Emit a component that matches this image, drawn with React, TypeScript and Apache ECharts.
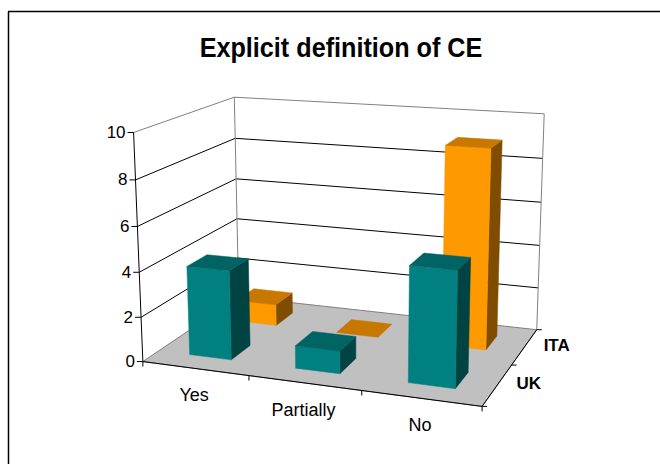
import React, { useEffect, useRef } from "react";
import * as echarts from "echarts";

const TITLE = "Explicit definition of CE";
const CATEGORIES = ["Yes", "Partially", "No"];
const SERIES_NAMES = ["UK", "ITA"];
const UK_VALUES = [4, 1, 5];
const ITA_VALUES = [1, 0, 9];
const VALUE_TICKS = [0, 2, 4, 6, 8, 10];
const VALUE_MAX = 10;
const VALUE_INTERVAL = 2;

const FONT = "'Liberation Sans', Arial, Helvetica, sans-serif";

type Faces = { front: string; top: string; side: string };
const FACE_COLORS: Record<string, Faces> = {
  UK: { front: "#008080", top: "#006464", side: "#004343" },
  ITA: { front: "#FF9900", top: "#C87800", side: "#7F4C00" },
};

// Hidden cartesian grid that supplies the category / value scales.
const GRID_W = 300;
const GRID_H = 300;
const BAR_WIDTH_RATIO = 0.4; // share of a category band
const BAR_DEPTH_RATIO = 0.4; // share of a series row

// Screen position of the corners of the plot box
// (unit cube: x across categories, y into depth, z up).
const BOX_CORNERS: number[][] = [
  [0, 0, 0, 143.5, 361],
  [1, 0, 0, 482, 407],
  [1, 1, 0, 537, 329],
  [0, 1, 0, 238, 297.5],
  [0, 0, 1, 133, 132.5],
  [0, 1, 1, 235, 97],
  [1, 1, 1, 544, 114],
];

// Least-squares fit of a 3x4 perspective camera to the box corners.
function fitProjection(pts: number[][]): number[] {
  const n = 11;
  const N = Array.from({ length: n }, () => new Array(n).fill(0));
  const r = new Array(n).fill(0);
  const addRow = (row: number[], b: number) => {
    for (let i = 0; i < n; i++) {
      r[i] += row[i] * b;
      for (let j = 0; j < n; j++) N[i][j] += row[i] * row[j];
    }
  };
  for (const [X, Y, Z, u, v] of pts) {
    addRow([X, Y, Z, 1, 0, 0, 0, 0, -u * X, -u * Y, -u * Z], u);
    addRow([0, 0, 0, 0, X, Y, Z, 1, -v * X, -v * Y, -v * Z], v);
  }
  for (let c = 0; c < n; c++) {
    let piv = c;
    for (let k = c + 1; k < n; k++) if (Math.abs(N[k][c]) > Math.abs(N[piv][c])) piv = k;
    [N[c], N[piv]] = [N[piv], N[c]];
    [r[c], r[piv]] = [r[piv], r[c]];
    for (let k = c + 1; k < n; k++) {
      const f = N[k][c] / N[c][c];
      for (let j = c; j < n; j++) N[k][j] -= f * N[c][j];
      r[k] -= f * r[c];
    }
  }
  const p = new Array(n).fill(0);
  for (let c = n - 1; c >= 0; c--) {
    let s = r[c];
    for (let j = c + 1; j < n; j++) s -= N[c][j] * p[j];
    p[c] = s / N[c][c];
  }
  return p;
}

const CAM = fitProjection(BOX_CORNERS);

function project(x: number, y: number, z: number): number[] {
  const p = CAM;
  const w = p[8] * x + p[9] * y + p[10] * z + 1;
  return [
    (p[0] * x + p[1] * y + p[2] * z + p[3]) / w,
    (p[4] * x + p[5] * y + p[6] * z + p[7]) / w,
  ];
}

// Normalised coordinates from the hidden grid's pixel output.
const normX = (px: number) => px / GRID_W;
const normZ = (py: number) => (GRID_H - py) / GRID_H;

function poly(points: number[][], fill: string) {
  return {
    type: "polygon",
    shape: { points },
    style: { fill, stroke: fill, lineWidth: 0.5 },
  };
}

function line(a: number[], b: number[], stroke: string, lineWidth = 1) {
  return {
    type: "line",
    shape: { x1: a[0], y1: a[1], x2: b[0], y2: b[1] },
    style: { stroke, lineWidth },
  };
}

function text(
  str: string,
  x: number,
  y: number,
  align: string,
  fontSize: number,
  fontWeight = "normal"
) {
  return {
    type: "text",
    x,
    y,
    style: {
      text: str,
      fill: "#000",
      fontSize,
      fontWeight,
      fontFamily: FONT,
      align,
      verticalAlign: "middle",
    },
  };
}

function renderFrame(_params: any, api: any) {
  const children: any[] = [];
  const A = project(0, 0, 0);
  const B = project(1, 0, 0);
  const C = project(1, 1, 0);
  const D = project(0, 1, 0);
  const E = project(0, 0, 1);
  const F = project(0, 1, 1);
  const G = project(1, 1, 1);

  // walls and floor
  children.push({ type: "polygon", shape: { points: [A, D, F, E] }, style: { fill: "#FFFFFF" } });
  children.push({ type: "polygon", shape: { points: [D, C, G, F] }, style: { fill: "#FFFFFF" } });
  children.push({
    type: "polygon",
    shape: { points: [A, B, C, D] },
    style: { fill: "#C0C0C0", stroke: "#808080", lineWidth: 1 },
  });

  // gridlines on side and back walls
  for (const v of VALUE_TICKS) {
    if (v === 0 || v === VALUE_MAX) continue;
    const z = normZ(api.coord([0, v])[1]);
    children.push({
      type: "polyline",
      shape: { points: [project(0, 0, z), project(0, 1, z), project(1, 1, z)] },
      style: { stroke: "#000", lineWidth: 1, fill: "none" },
    });
  }

  // wall outlines
  children.push({
    type: "polyline",
    shape: { points: [E, F, G, C] },
    style: { stroke: "#808080", lineWidth: 1, fill: "none" },
  });
  children.push(line(D, F, "#808080"));

  // value axis
  children.push(line(A, E, "#000"));
  for (const v of VALUE_TICKS) {
    const z = normZ(api.coord([0, v])[1]);
    const P = project(0, 0, z);
    children.push(line([P[0] - 6, P[1]], P, "#000"));
    children.push(text(String(v), P[0] - 8, P[1], "right", 17));
  }

  // category axis
  children.push(line(A, B, "#000"));
  const band = api.size([1, 0])[0];
  CATEGORIES.forEach((cat, i) => {
    const cx = api.coord([i, 0])[0];
    const left = normX(cx - band / 2);
    const P = project(left, 0, 0);
    children.push(line(P, [P[0], P[1] + 5], "#000"));
    const M = project(normX(cx), 0, 0);
    children.push(text(cat, M[0] - 1, M[1] + 27, "center", 18));
  });
  children.push(line(B, [B[0], B[1] + 5], "#000"));

  // depth (series) axis
  children.push(line(B, C, "#000"));
  const rows = SERIES_NAMES.length;
  for (let k = 0; k <= rows; k++) {
    const P = project(1, k / rows, 0);
    children.push(line(P, [P[0] + 5, P[1]], "#000"));
  }
  SERIES_NAMES.forEach((name, k) => {
    const P = project(1, (k + 0.5) / rows, 0);
    children.push(text(name, P[0] + 19, P[1] - 1, "left", 17, "bold"));
  });

  return { type: "group", children };
}

function makeBarRenderer(row: number, faces: Faces) {
  return (_params: any, api: any) => {
    const cat = api.value(0);
    const val = api.value(1);
    const base = api.coord([cat, 0]);
    const top = api.coord([cat, val]);
    const band = api.size([1, 0])[0];
    const xc = normX(base[0]);
    const hw = (normX(band) * BAR_WIDTH_RATIO) / 2;
    const x0 = xc - hw;
    const x1 = xc + hw;
    const z0 = normZ(base[1]);
    const z1 = normZ(top[1]);
    const rowW = 1 / SERIES_NAMES.length;
    const yc = (row + 0.5) * rowW;
    const hd = (rowW * BAR_DEPTH_RATIO) / 2;
    const y0 = yc - hd;
    const y1 = yc + hd;

    const topFace = [project(x0, y0, z1), project(x1, y0, z1), project(x1, y1, z1), project(x0, y1, z1)];
    const children: any[] = [];
    if (z1 - z0 > 1e-6) {
      children.push(
        poly([project(x1, y0, z0), project(x1, y1, z0), project(x1, y1, z1), project(x1, y0, z1)], faces.side)
      );
      children.push(
        poly([project(x0, y0, z0), project(x1, y0, z0), project(x1, y0, z1), project(x0, y0, z1)], faces.front)
      );
    }
    children.push(poly(topFace, faces.top));
    return { type: "group", children };
  };
}

export default function App() {
  const ref = useRef<HTMLDivElement>(null);

  useEffect(() => {
    if (!ref.current) return;
    const chart = echarts.init(ref.current, undefined, { renderer: "svg" });

    const rowData = [UK_VALUES, ITA_VALUES];
    const barSeries: any[] = [];
    // back row first so the front row is painted over it
    for (let row = SERIES_NAMES.length - 1; row >= 0; row--) {
      const name = SERIES_NAMES[row];
      barSeries.push({
        type: "custom",
        name,
        coordinateSystem: "cartesian2d",
        clip: false,
        silent: true,
        z: 3,
        encode: { x: 0, y: 1 },
        data: rowData[row].map((v, i) => [i, v]),
        renderItem: makeBarRenderer(row, FACE_COLORS[name]),
      });
    }

    chart.setOption({
      animation: false,
      backgroundColor: "#FFFFFF",
      grid: { left: 0, top: 0, width: GRID_W, height: GRID_H, show: false },
      xAxis: { type: "category", data: CATEGORIES, show: false },
      yAxis: { type: "value", min: 0, max: VALUE_MAX, interval: VALUE_INTERVAL, show: false },
      graphic: [
        {
          type: "line",
          shape: { x1: 8.5, y1: 11.5, x2: 8.5, y2: 464 },
          style: { stroke: "#000", lineWidth: 1.5 },
        },
        {
          type: "line",
          shape: { x1: 8, y1: 11.5, x2: 660, y2: 11.5 },
          style: { stroke: "#000", lineWidth: 1.5 },
        },
        {
          type: "text",
          x: 341,
          y: 47.5,
          scaleX: 0.9,
          style: {
            text: TITLE,
            fill: "#000",
            fontSize: 28,
            fontWeight: "bold",
            fontFamily: FONT,
            align: "center",
            verticalAlign: "middle",
          },
        },
      ],
      series: [
        {
          type: "custom",
          name: "frame",
          coordinateSystem: "cartesian2d",
          clip: false,
          silent: true,
          z: 1,
          encode: { x: 0, y: 1 },
          data: [[0, 0]],
          renderItem: renderFrame,
        },
        ...barSeries,
      ],
    });

    return () => chart.dispose();
  }, []);

  return (
    <div
      ref={ref}
      style={{ position: "absolute", left: 0, top: 0, width: 660, height: 464, background: "#fff" }}
    />
  );
}
